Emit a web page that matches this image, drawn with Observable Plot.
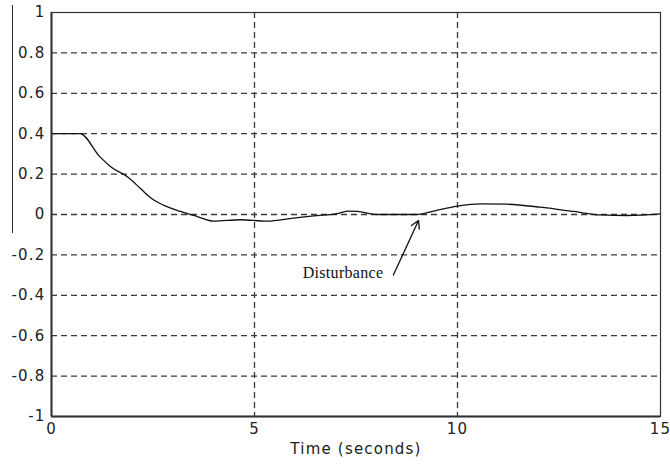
<!DOCTYPE html>
<html>
<head>
<meta charset="utf-8">
<script src="https://cdn.jsdelivr.net/npm/d3@7"></script>
<script src="https://cdn.jsdelivr.net/npm/@observablehq/plot@0.6"></script>
<style>
  html, body { margin: 0; padding: 0; background: #fff; }
  #wrap { position: relative; width: 670px; height: 464px; }
  #edge { position: absolute; left: 12px; top: 5px; width: 0; height: 228px; border-left: 1px solid #333; }
  #wrap svg text { letter-spacing: 1.2px; }
  #wrap svg g.note text { letter-spacing: 0.3px; }
</style>
</head>
<body>
<div id="wrap"><div id="edge"></div></div>
<script>
const times  = [0, 0.7, 1.2, 1.45, 1.9, 2.19, 2.44, 2.77, 3.18, 3.59, 4.0, 4.65, 5.31, 5.96, 6.46, 7.1, 7.3, 7.53, 8.02, 9.0, 9.42, 9.99, 10.57, 11.22, 12.04, 12.86, 13.52, 14.18, 15];
const values = [0.4, 0.4, 0.284, 0.238, 0.182, 0.129, 0.083, 0.045, 0.015, -0.01, -0.033, -0.026, -0.033, -0.018, -0.007, 0.007, 0.017, 0.015, 0.0, 0.0, 0.017, 0.041, 0.053, 0.051, 0.036, 0.015, -0.002, -0.005, 0.003];
const xTicks = [0, 5, 10, 15];
const yTicks = [-1, -0.8, -0.6, -0.4, -0.2, 0, 0.2, 0.4, 0.6, 0.8, 1];
const xGrid = [5, 10];
const yGrid = [-0.8, -0.6, -0.4, -0.2, 0, 0.2, 0.4, 0.6, 0.8];
const xLabel = ["Time (seconds)"];
const annotation = [{label: "Disturbance", tx: 7.18, ty: -0.29, x1: 8.42, y1: -0.30, x2: 9.04, y2: -0.03}];

const data = times.map((t, i) => ({t, v: values[i]}));

const chart = Plot.plot({
  width: 670,
  height: 464,
  marginLeft: 51,
  marginRight: 10,
  marginTop: 12,
  marginBottom: 48,
  style: {fontFamily: "'DejaVu Sans', Verdana, sans-serif", fontSize: "15px", color: "#222", background: "#fff"},
  x: {domain: [0, 15]},
  y: {domain: [-1, 1]},
  marks: [
    Plot.axisX(xTicks, {tickSize: 0, tickPadding: 7, tickFormat: d => String(d), fontSize: 15, label: null, fill: "#222"}),
    Plot.axisY(yTicks, {tickSize: 0, tickPadding: 6, tickFormat: d => String(d), fontSize: 15, label: null, fill: "#222"}),
    Plot.ruleY(yGrid, {stroke: "#3a3a3a", strokeWidth: 1.3, strokeDasharray: "6,4"}),
    Plot.ruleX(xGrid, {stroke: "#3a3a3a", strokeWidth: 1.3, strokeDasharray: "6,4"}),
    Plot.line(data, {x: "t", y: "v", stroke: "#111", strokeWidth: 1.3, curve: "monotone-x"}),
    Plot.arrow(annotation, {x1: "x1", y1: "y1", x2: "x2", y2: "y2", stroke: "#111", strokeWidth: 1.3, headLength: 10, bend: 0}),
    Plot.text(annotation, {x: "tx", y: "ty", text: "label", className: "note", fontFamily: "'Liberation Serif', 'Times New Roman', serif", fontSize: 16, fill: "#111"}),
    Plot.text(xLabel, {frameAnchor: "bottom", text: d => d, dy: 37, fontSize: 15, fill: "#222"}),
    Plot.ruleY([-1], {stroke: "#333", strokeWidth: 2}),
    Plot.ruleX([0], {stroke: "#333", strokeWidth: 2}),
    Plot.frame({stroke: "#333", strokeWidth: 1.2})
  ]
});
document.getElementById("wrap").appendChild(chart);
</script>
</body>
</html>
